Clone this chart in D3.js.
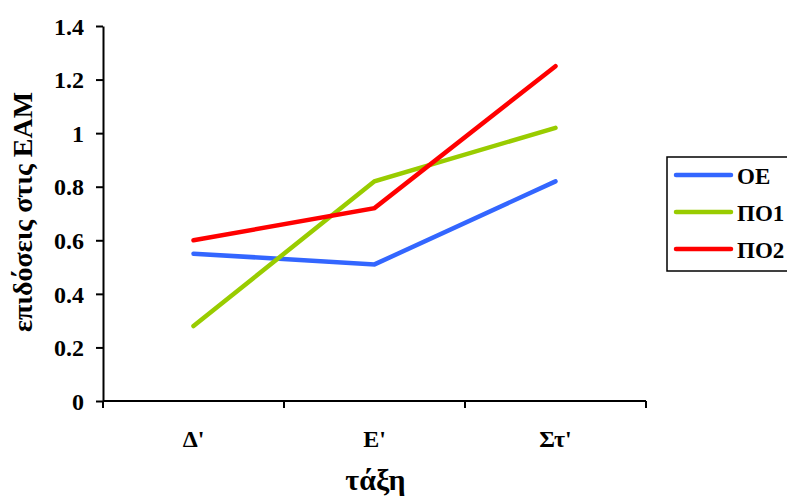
<!DOCTYPE html>
<html>
<head>
<meta charset="utf-8">
<script src="https://cdn.jsdelivr.net/npm/d3@7"></script>
</head>
<body style="margin:0;background:#fff">
<script>
const categories = ["Δ'", "Ε'", "Στ'"];
const seriesNames = ["ΟΕ", "ΠΟ1", "ΠΟ2"];
const oeValues = [0.55, 0.51, 0.82];
const po1Values = [0.28, 0.82, 1.02];
const po2Values = [0.60, 0.72, 1.25];
const yTicks = [0, 0.2, 0.4, 0.6, 0.8, 1, 1.2, 1.4];
const colors = ["#3366FF", "#99CC00", "#FF0000"];

const FONT = "Liberation Serif";

const series = [oeValues, po1Values, po2Values].map((v, i) => ({
  name: seriesNames[i],
  color: colors[i],
  values: v.map((d, j) => ({cat: categories[j], value: d}))
}));

const W = 787, H = 500;
const margin = {top: 26, left: 103};
const width = 646 - margin.left,
  height = 401 - margin.top;

const root = d3.select("body").append("svg")
  .attr("width", W)
  .attr("height", H)
  .attr("font-family", FONT)
  .attr("font-weight", "bold");

const svg = root.append("g")
  .attr("transform", `translate(${margin.left},${margin.top})`);

const x = d3.scaleBand()
  .domain(categories)
  .range([0, width]);

const y = d3.scaleLinear()
  .domain([0, 1.4])
  .range([height, 0]);

function bold(sel, size) {
  return sel.attr("font-family", FONT)
    .attr("font-weight", "bold")
    .attr("font-size", size)
    .attr("fill", "#000");
}

// Y axis
const yAxis = svg.append("g")
  .call(d3.axisLeft(y).tickValues(yTicks).tickFormat(d3.format("~g")).tickSize(7).tickSizeOuter(0))
  .attr("font-family", FONT)
  .attr("font-size", 24);
yAxis.select(".domain").attr("stroke", "#000").attr("stroke-width", 2);
yAxis.selectAll(".tick line").attr("stroke", "#000").attr("stroke-width", 2);
bold(yAxis.selectAll(".tick text").attr("x", -19).attr("dy", "0.34em"), 24);

// X axis (ticks between categories)
const xAxisG = svg.append("g")
  .attr("transform", `translate(0,${height})`);
xAxisG.append("line")
  .attr("x1", 0).attr("x2", width)
  .attr("stroke", "#000").attr("stroke-width", 2);
const bounds = categories.map(c => x(c)).concat([width]);
xAxisG.selectAll(".xt")
  .data(bounds)
  .join("line")
  .attr("x1", d => d).attr("x2", d => d)
  .attr("y1", 0).attr("y2", 7)
  .attr("stroke", "#000").attr("stroke-width", 2);
bold(xAxisG.selectAll(".xl")
  .data(categories)
  .join("text")
  .attr("x", d => x(d) + x.bandwidth() / 2)
  .attr("y", 46)
  .attr("text-anchor", "middle")
  .text(d => d), 24);

// Axis titles
bold(svg.append("text")
  .attr("x", width / 2 + 1)
  .attr("y", height + 89)
  .attr("text-anchor", "middle")
  .text("τάξη"), 30);

bold(root.append("text")
  .attr("transform", "translate(32,212) rotate(-90)")
  .attr("text-anchor", "middle")
  .text("επιδόσεις στις ΕΑΜ"), 28);

// Lines
const line = d3.line()
  .x(d => x(d.cat) + x.bandwidth() / 2)
  .y(d => y(d.value));

svg.selectAll(".series")
  .data(series)
  .join("path")
  .attr("fill", "none")
  .attr("stroke", d => d.color)
  .attr("stroke-width", 4.5)
  .attr("stroke-linecap", "round")
  .attr("d", d => line(d.values));

// Legend
const legend = root.append("g")
  .attr("transform", "translate(667,157)");
legend.append("rect")
  .attr("width", 125).attr("height", 114)
  .attr("fill", "#fff")
  .attr("stroke", "#000").attr("stroke-width", 1.5);
const items = legend.selectAll(".item")
  .data(series)
  .join("g")
  .attr("transform", (d, i) => `translate(0,${18 + i * 37})`);
items.append("line")
  .attr("x1", 9).attr("x2", 64)
  .attr("stroke", d => d.color)
  .attr("stroke-width", 4.5)
  .attr("stroke-linecap", "round");
bold(items.append("text")
  .attr("x", 70)
  .attr("y", 9)
  .text(d => d.name), 23);
</script>
</body>
</html>
